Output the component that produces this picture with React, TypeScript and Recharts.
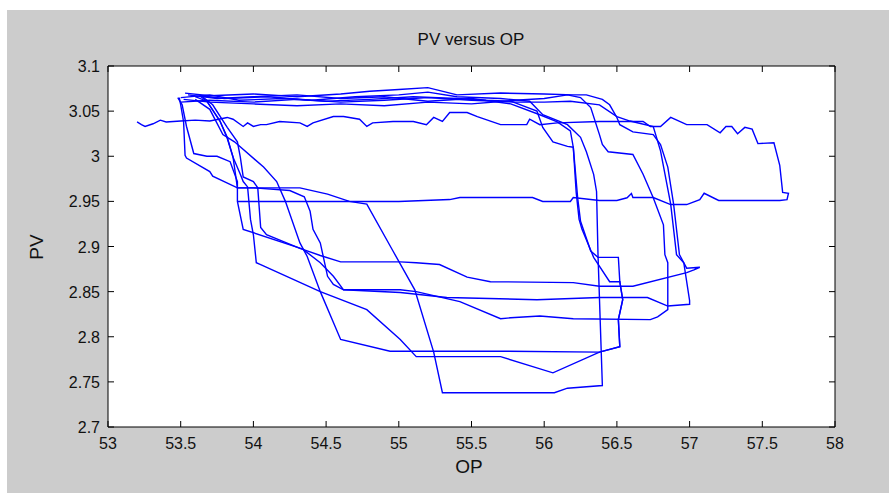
import React from 'react'
import { ScatterChart, Scatter, XAxis, YAxis, CartesianGrid } from 'recharts'

// OP (x) / PV (y) pairs, one array per cycle of the trace
const cycleBottom: [number, number][] = [
  [53.63, 3.067], [53.8, 3.064], [54.1, 3.066], [54.4, 3.062], [54.7, 3.066], [55.0, 3.068],
  [55.2, 3.071], [55.4, 3.066], [55.7, 3.064], [55.9, 3.061], [55.99, 3.046], [56.16, 3.035],
  [56.25, 3.021], [56.29, 3.005], [56.34, 2.98], [56.36, 2.961], [56.37, 2.891], [56.4, 2.746],
  [56.16, 2.743], [56.07, 2.738], [55.3, 2.738], [55.24, 2.783], [55.11, 2.852], [54.96, 2.895],
  [54.78, 2.947], [54.66, 2.95], [54.51, 2.958], [54.32, 2.965], [53.89, 2.965], [53.86, 2.999],
  [53.82, 3.021], [53.77, 3.039], [53.68, 3.061], [53.63, 3.067]
]

const cycleBox: [number, number][] = [
  [53.5, 3.065], [53.7, 3.068], [53.9, 3.062], [54.2, 3.064], [54.5, 3.061], [54.8, 3.063],
  [55.1, 3.066], [55.4, 3.064], [55.6, 3.062], [55.77, 3.061], [55.95, 3.05], [55.99, 3.032],
  [56.06, 3.016], [56.16, 3.011], [56.2, 3.01], [56.23, 2.954], [56.25, 2.928], [56.32, 2.895],
  [56.37, 2.888], [56.51, 2.888], [56.52, 2.861], [56.54, 2.841], [56.51, 2.819], [56.52, 2.789],
  [56.38, 2.783], [55.7, 2.784], [55.0, 2.784], [54.94, 2.784], [54.6, 2.797], [54.46, 2.85],
  [54.37, 2.889], [54.32, 2.904], [54.22, 2.95], [54.16, 2.972], [54.07, 2.988], [53.87, 3.016],
  [53.79, 3.024], [53.7, 3.052], [53.6, 3.063]
]

const cycleDip: [number, number][] = [
  [53.55, 3.068], [53.75, 3.064], [54.0, 3.066], [54.3, 3.068], [54.6, 3.064], [54.9, 3.066],
  [55.2, 3.061], [55.5, 3.064], [55.77, 3.058], [55.97, 3.046], [56.09, 3.038], [56.18, 3.028],
  [56.2, 3.01], [56.22, 2.96], [56.24, 2.93], [56.26, 2.919], [56.34, 2.888], [56.45, 2.861],
  [56.52, 2.861], [56.54, 2.841], [56.51, 2.819], [56.52, 2.789], [56.38, 2.783], [56.06, 2.76],
  [55.7, 2.778], [55.12, 2.778], [55.01, 2.797], [54.78, 2.83], [54.46, 2.85], [54.05, 2.88],
  [54.02, 2.882], [54.0, 2.913], [53.98, 2.93], [53.96, 2.966], [53.93, 2.972], [53.91, 2.98],
  [53.86, 2.999], [53.82, 3.02], [53.77, 3.039], [53.68, 3.061], [53.6, 3.066]
]

const cycleMid: [number, number][] = [
  [53.52, 3.063], [53.7, 3.06], [54.0, 3.058], [54.3, 3.056], [54.6, 3.058], [54.9, 3.056],
  [55.2, 3.06], [55.5, 3.058], [55.8, 3.062], [56.0, 3.064], [56.16, 3.068], [56.25, 3.065],
  [56.32, 3.054], [56.38, 3.024], [56.4, 3.013], [56.44, 3.005], [56.61, 3.002], [56.68, 2.98],
  [56.75, 2.954], [56.82, 2.924], [56.83, 2.891], [56.85, 2.882], [56.85, 2.83], [56.78, 2.822],
  [56.73, 2.819], [56.2, 2.82], [55.97, 2.823], [55.77, 2.821], [55.7, 2.82], [55.42, 2.839],
  [55.12, 2.85], [55.01, 2.852], [54.62, 2.852], [54.55, 2.867], [54.46, 2.882], [54.34, 2.897],
  [53.93, 2.919], [53.89, 2.95], [53.89, 2.972], [53.84, 2.994], [53.75, 3.0], [53.68, 3.0],
  [53.59, 3.003], [53.54, 3.033], [53.51, 3.057], [53.48, 3.065]
]

const cycleRight: [number, number][] = [
  [53.5, 3.06], [53.7, 3.062], [54.0, 3.06], [54.3, 3.063], [54.6, 3.06], [54.9, 3.062],
  [55.2, 3.065], [55.5, 3.062], [55.8, 3.06], [56.0, 3.06], [56.18, 3.061], [56.38, 3.057],
  [56.5, 3.044], [56.59, 3.039], [56.75, 3.033], [56.8, 3.006], [56.87, 2.947], [56.91, 2.891],
  [56.96, 2.882], [57.0, 2.84], [57.0, 2.836], [56.85, 2.834], [56.71, 2.8435], [56.38, 2.8435],
  [55.95, 2.841], [55.33, 2.8435], [55.01, 2.849], [54.62, 2.852], [54.55, 2.858], [54.51, 2.867],
  [54.46, 2.904], [54.41, 2.919], [54.39, 2.939], [54.35, 2.955], [54.25, 2.962], [54.0, 2.965],
  [53.89, 2.965], [53.72, 2.978], [53.7, 2.983], [53.54, 2.998], [53.53, 3.001], [53.52, 3.038],
  [53.5, 3.057], [53.49, 3.065]
]

const cycleHook: [number, number][] = [
  [53.53, 3.07], [53.7, 3.067], [54.0, 3.069], [54.3, 3.066], [54.6, 3.069], [54.8, 3.072],
  [55.0, 3.074], [55.2, 3.076], [55.4, 3.068], [55.7, 3.07], [56.0, 3.069], [56.2, 3.068],
  [56.29, 3.068], [56.4, 3.063], [56.45, 3.057], [56.5, 3.043], [56.52, 3.035], [56.61, 3.027],
  [56.75, 3.024], [56.8, 3.013], [56.85, 2.988], [56.89, 2.947], [56.93, 2.891], [56.96, 2.882],
  [56.98, 2.876], [57.07, 2.877], [57.03, 2.874], [56.98, 2.871], [56.61, 2.856], [56.38, 2.856],
  [56.2, 2.86], [55.63, 2.861], [55.47, 2.866], [55.28, 2.88], [55.12, 2.882], [55.01, 2.883],
  [54.6, 2.883], [54.46, 2.89], [54.32, 2.898], [54.09, 2.913], [54.05, 2.921], [54.03, 2.965],
  [54.0, 2.972], [53.93, 2.977], [53.91, 2.999], [53.89, 3.016], [53.82, 3.032], [53.72, 3.057],
  [53.65, 3.066]
]

const cycleFlat: [number, number][] = [
  [53.2, 3.038], [53.23, 3.035], [53.255, 3.033], [53.31, 3.036], [53.36, 3.04], [53.4, 3.038],
  [53.5, 3.039], [53.6, 3.04], [53.7, 3.039], [53.82, 3.043], [53.86, 3.041], [53.93, 3.033],
  [53.96, 3.037], [54.0, 3.033], [54.05, 3.035], [54.09, 3.035], [54.18, 3.0385], [54.32, 3.037],
  [54.37, 3.033], [54.41, 3.037], [54.55, 3.044], [54.62, 3.044], [54.73, 3.041], [54.78, 3.033],
  [54.82, 3.037], [54.96, 3.0385], [55.1, 3.0385], [55.19, 3.035], [55.24, 3.043], [55.3, 3.0385],
  [55.35, 3.0485], [55.47, 3.0485], [55.54, 3.044], [55.7, 3.035], [55.88, 3.035], [55.9, 3.041],
  [55.97, 3.035], [56.09, 3.037], [56.38, 3.0385], [56.52, 3.0385], [56.68, 3.0385], [56.73, 3.033],
  [56.8, 3.033], [56.87, 3.043], [56.98, 3.035], [57.12, 3.035], [57.21, 3.026], [57.25, 3.033],
  [57.29, 3.033], [57.33, 3.025], [57.38, 3.032], [57.43, 3.03], [57.47, 3.014], [57.58, 3.015],
  [57.62, 2.99], [57.64, 2.96], [57.68, 2.959], [57.67, 2.952], [57.62, 2.951], [57.47, 2.951],
  [57.2, 2.951], [57.1, 2.959], [57.07, 2.952], [56.98, 2.9465], [56.87, 2.9465], [56.75, 2.9543],
  [56.61, 2.9543], [56.6, 2.9587], [56.57, 2.954], [56.5, 2.951], [56.38, 2.951], [56.2, 2.9543],
  [56.18, 2.9499], [55.99, 2.9499], [55.92, 2.9543], [55.42, 2.9543], [55.35, 2.952], [55.0, 2.9499],
  [54.7, 2.9499], [54.4, 2.9499], [54.1, 2.9499], [53.89, 2.9499]
]

const cycles = [cycleBottom, cycleBox, cycleDip, cycleMid, cycleRight, cycleHook, cycleFlat]

const opTicks = [53, 53.5, 54, 54.5, 55, 55.5, 56, 56.5, 57, 57.5, 58]
const pvTicks = [2.7, 2.75, 2.8, 2.85, 2.9, 2.95, 3, 3.05, 3.1]

const W = 882
const H = 483
const PLOT_W = 727
const PLOT_H = 361
const FONT = '"Liberation Sans", Arial, sans-serif'

const XTick = (props: any) => {
  const { x, y, payload } = props
  return (
    <g>
      <line x1={x} y1={y} x2={x} y2={y - 6} stroke="#000" />
      <line x1={x} y1={y - PLOT_H} x2={x} y2={y - PLOT_H + 6} stroke="#000" />
      <text x={x} y={y + 22} textAnchor="middle" fontSize={16} fontFamily={FONT} fill="#111">
        {String(payload.value)}
      </text>
    </g>
  )
}

const YTick = (props: any) => {
  const { x, y, payload } = props
  return (
    <g>
      <line x1={x} y1={y} x2={x + 6} y2={y} stroke="#000" />
      <line x1={x + PLOT_W} y1={y} x2={x + PLOT_W - 6} y2={y} stroke="#000" />
      <text x={x - 8} y={y + 6} textAnchor="end" fontSize={16} fontFamily={FONT} fill="#111">
        {String(payload.value)}
      </text>
    </g>
  )
}

export default function App() {
  return (
    <div style={{ position: 'absolute', left: 7, top: 10, width: W, height: H, background: '#cccccc' }}>
      <ScatterChart width={W} height={H} margin={{ top: 56, right: 54, bottom: 36, left: 41 }}>
        <CartesianGrid
          fill="#ffffff"
          stroke="#000"
          horizontalCoordinatesGenerator={({ offset }: any) => [offset.top, offset.top + offset.height]}
          verticalCoordinatesGenerator={({ offset }: any) => [offset.left, offset.left + offset.width]}
        />
        <XAxis
          type="number"
          dataKey="x"
          domain={[53, 58]}
          ticks={opTicks}
          interval={0}
          allowDataOverflow
          axisLine={false}
          tickLine={false}
          tickSize={0}
          tickMargin={0}
          height={30}
          tick={<XTick />}
        />
        <YAxis
          type="number"
          dataKey="y"
          domain={[2.7, 3.1]}
          ticks={pvTicks}
          interval={0}
          allowDataOverflow
          axisLine={false}
          tickLine={false}
          tickSize={0}
          tickMargin={0}
          width={60}
          tick={<YTick />}
        />
        {cycles.map((c, i) => (
          <Scatter
            key={i}
            data={c.map(([x, y]) => ({ x, y }))}
            line={{ stroke: '#0000ff', strokeWidth: 1.4 }}
            lineType="joint"
            shape={() => <g />}
            isAnimationActive={false}
          />
        ))}
      </ScatterChart>
      <div style={{ position: 'absolute', left: 464, top: 30, transform: 'translate(-50%, -50%)', fontFamily: FONT, fontSize: 17, color: '#111', whiteSpace: 'nowrap' }}>
        PV versus OP
      </div>
      <div style={{ position: 'absolute', left: 462, top: 457, transform: 'translate(-50%, -50%)', fontFamily: FONT, fontSize: 19, color: '#111' }}>
        OP
      </div>
      <div style={{ position: 'absolute', left: 30, top: 237, transform: 'translate(-50%, -50%) rotate(-90deg)', fontFamily: FONT, fontSize: 19, color: '#111' }}>
        PV
      </div>
    </div>
  )
}
